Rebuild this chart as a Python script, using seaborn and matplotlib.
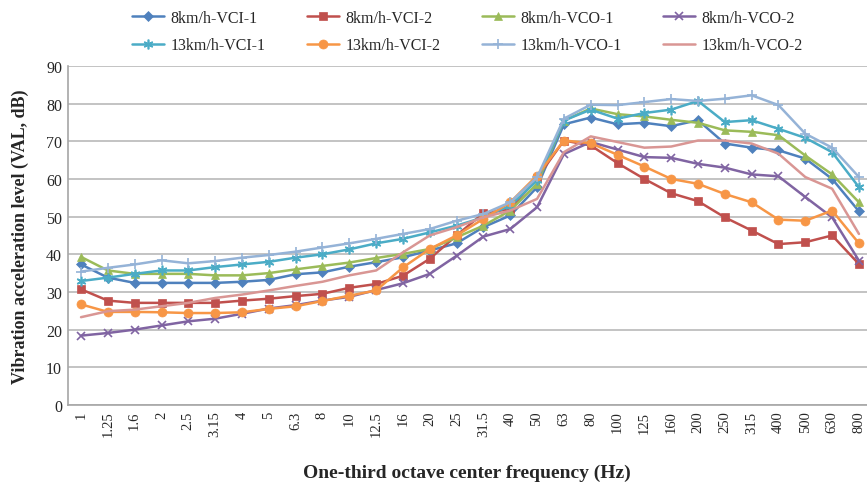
import numpy as np
import pandas as pd
import seaborn as sns
import matplotlib.pyplot as plt

freqs = ["1", "1.25", "1.6", "2", "2.5", "3.15", "4", "5", "6.3", "8", "10", "12.5",
         "16", "20", "25", "31.5", "40", "50", "63", "80", "100", "125", "160", "200",
         "250", "315", "400", "500", "630", "800"]

vci1_8 = [37.3, 33.8, 32.4, 32.4, 32.4, 32.4, 32.7, 33.2, 34.7, 35.2, 36.7, 37.9, 39.2, 41.0, 42.9,
          47.2, 50.3, 57.8, 74.5, 76.3, 74.5, 74.9, 74.0, 75.6, 69.4, 68.3, 67.6, 65.4, 60.0, 51.4]
vci2_8 = [30.7, 27.7, 27.1, 27.1, 27.1, 27.1, 27.7, 28.2, 28.9, 29.5, 31.1, 32.1, 34.3, 38.8, 45.0,
          50.9, 52.0, 60.2, 70.2, 68.9, 64.2, 60.0, 56.2, 54.1, 49.8, 46.3, 42.7, 43.2, 45.0, 37.4]
vco1_8 = [39.3, 35.7, 34.8, 34.8, 34.8, 34.4, 34.4, 35.0, 36.0, 36.9, 37.8, 39.0, 40.1, 41.4, 44.5,
          47.6, 51.6, 58.7, 75.5, 78.7, 77.2, 76.6, 75.7, 74.9, 72.9, 72.5, 71.6, 66.2, 61.2, 53.8]
vco2_8 = [18.4, 19.1, 20.0, 21.1, 22.2, 22.9, 24.2, 25.6, 26.5, 27.7, 28.7, 30.5, 32.3, 34.8, 39.6,
          44.7, 46.7, 52.5, 66.6, 69.8, 67.8, 65.8, 65.6, 64.0, 63.0, 61.2, 60.7, 55.2, 49.8, 38.3]
vci1_13 = [32.9, 33.8, 34.8, 35.7, 35.7, 36.6, 37.3, 38.0, 39.1, 40.0, 41.3, 42.9, 44.1, 45.8, 47.6,
           49.8, 52.9, 59.6, 75.5, 78.4, 76.0, 77.5, 78.4, 80.7, 75.1, 75.6, 73.3, 70.9, 67.1, 57.8]
vci2_13 = [26.7, 24.7, 24.7, 24.6, 24.4, 24.4, 24.6, 25.5, 26.2, 27.6, 29.0, 30.4, 36.5, 41.4, 45.0,
           49.4, 53.8, 60.9, 70.2, 69.5, 66.4, 63.3, 60.0, 58.7, 56.0, 53.8, 49.2, 48.9, 51.6, 42.9]
vco1_13 = [35.4, 36.4, 37.3, 38.4, 37.6, 38.2, 39.1, 39.8, 40.7, 41.8, 42.9, 44.1, 45.4, 46.7, 48.9,
           50.7, 53.8, 60.4, 76.0, 79.7, 79.6, 80.4, 81.2, 80.7, 81.3, 82.2, 79.6, 72.0, 68.3, 60.5]
vco2_13 = [23.3, 24.9, 25.3, 26.2, 27.1, 28.4, 29.3, 30.4, 31.6, 32.7, 34.4, 35.7, 40.5, 45.0, 47.2,
           49.8, 51.6, 54.7, 67.1, 71.3, 69.8, 68.3, 68.6, 70.2, 70.2, 69.4, 66.7, 60.5, 57.4, 45.4]

names = ["8km/h-VCI-1", "8km/h-VCI-2", "8km/h-VCO-1", "8km/h-VCO-2",
         "13km/h-VCI-1", "13km/h-VCI-2", "13km/h-VCO-1", "13km/h-VCO-2"]
series = [vci1_8, vci2_8, vco1_8, vco2_8, vci1_13, vci2_13, vco1_13, vco2_13]

colors = ["#4F81BD", "#C0504D", "#9BBB59", "#8064A2", "#4BACC6", "#F79646", "#95B3D7", "#D99694"]
markers = ["D", "s", "^", "x", (6, 2, 0), "o", "+", ""]
msizes = [5, 6, 6, 6, 7, 6.5, 7, 0]

sns.set_style("white")
plt.rcParams["font.family"] = ["Liberation Serif", "DejaVu Serif"]

fig = plt.figure(figsize=(8.67, 4.85), dpi=100)
ax = fig.add_axes([0.078, 0.163, 0.922, 0.699])

x = np.arange(len(freqs))
for name, vals, c, m, ms in zip(names, series, colors, markers, msizes):
    df = pd.DataFrame({"x": x, "y": vals})
    sns.lineplot(data=df, x="x", y="y", ax=ax, color=c, marker=m, markersize=ms,
                 markeredgecolor=c, markeredgewidth=1.2 if m in ("x", "+", (6, 2, 0)) else 0.5,
                 linewidth=1.8, label=name, sort=False)

ax.set_xlim(-0.5, 29.3)
ax.set_ylim(0, 90)
ax.set_yticks(range(0, 91, 10))
ax.set_xticks(x)
ax.set_xticklabels(freqs, rotation=90, va="top", fontsize=10.5)
ax.tick_params(axis="y", labelsize=11.5, length=0, pad=4)
ax.tick_params(axis="x", length=0, pad=4)
ax.yaxis.grid(True, color="#BEBEBE", linewidth=1.3)
ax.xaxis.grid(False)
for s in ["top", "right"]:
    ax.spines[s].set_visible(False)
for s in ["left", "bottom"]:
    ax.spines[s].set_color("#A6A6A6")
    ax.spines[s].set_linewidth(1.2)

ax.set_xlabel("One-third octave center frequency (Hz)", fontsize=14, fontweight="bold", labelpad=20)
ax.set_ylabel("Vibration acceleration level (VAL, dB)", fontsize=13, fontweight="bold", labelpad=12)

# matplotlib fills legend columns first, so reorder to read row by row
handles, labels = ax.get_legend_handles_labels()
order = [0, 4, 1, 5, 2, 6, 3, 7]
ax.legend([handles[i] for i in order], [labels[i] for i in order],
          loc="lower center", bbox_to_anchor=(0.5, 0.995), ncol=4, frameon=False,
          fontsize=11.5, handlelength=2.0, columnspacing=2.6, handletextpad=0.4,
          labelspacing=0.7)

fig.savefig("out.png", dpi=100)
